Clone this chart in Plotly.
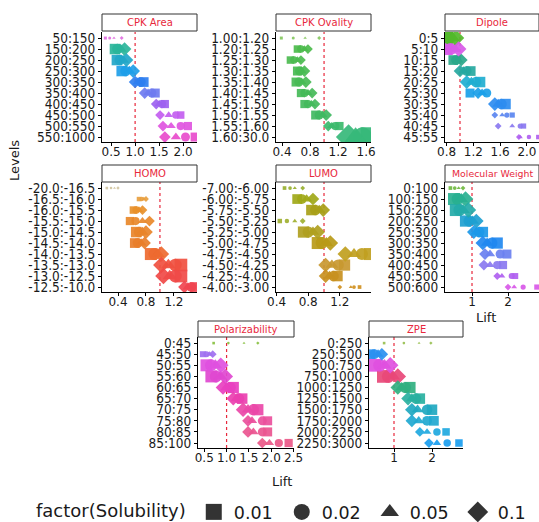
import math
import plotly.graph_objects as go

# ---------------- data ----------------
SOLUBILITY = ["0.01", "0.02", "0.05", "0.1"]

CPK_AREA_LEVELS = ["50:150", "150:200", "200:250", "250:300", "300:350", "350:400",
                   "400:450", "450:500", "500:550", "550:1000"]
# lift per level, columns = solubility 0.01, 0.02, 0.05, 0.1
CPK_AREA_LIFT = [[0.38, 0.47, 0.56, 0.72], [0.58, 0.63, 0.70, 0.78], [0.62, 0.68, 0.75, 0.82],
                 [0.72, 0.80, 0.88, 0.96], [1.18, 1.12, 1.06, 1.00], [1.42, 1.35, 1.27, 1.20],
                 [1.62, 1.56, 1.50, 1.44], [1.95, 1.85, 1.70, 1.52], [2.10, 1.95, 1.75, 1.58],
                 [2.25, 2.05, 1.85, 1.62]]
CPK_AREA_COUNT = [4, 49, 49, 49, 42, 36, 30, 25, 30, 36]

CPK_OVALITY_LEVELS = ["1.00:1.20", "1.20:1.25", "1.25:1.30", "1.30:1.35", "1.35:1.40", "1.40:1.45",
                      "1.45:1.50", "1.50:1.55", "1.55:1.60", "1.60:30.0"]
CPK_OVALITY_LIFT = [[0.39, 0.56, 0.73, 0.93], [0.62, 0.67, 0.72, 0.77], [0.52, 0.57, 0.62, 0.67],
                    [0.62, 0.65, 0.68, 0.72], [0.60, 0.64, 0.68, 0.74], [0.67, 0.72, 0.77, 0.83],
                    [0.72, 0.77, 0.82, 0.87], [0.88, 0.93, 0.98, 1.03], [1.22, 1.16, 1.11, 1.06],
                    [1.66, 1.55, 1.45, 1.35]]
CPK_OVALITY_COUNT = [4, 25, 25, 36, 36, 30, 30, 36, 30, 170]

DIPOLE_LEVELS = ["0:5", "5:10", "10:15", "15:20", "20:25", "25:30", "30:35", "35:40", "40:45", "45:55"]
DIPOLE_LIFT = [[0.80, 0.84, 0.89, 0.94], [0.80, 0.86, 0.92, 0.98], [0.90, 0.94, 0.97, 1.02],
               [1.16, 1.10, 1.05, 1.00], [1.30, 1.24, 1.17, 1.10], [1.15, 1.40, 1.33, 1.27],
               [1.68, 1.62, 1.57, 1.52], [1.78, 1.70, 1.63, 1.52], [1.95, 1.90, 1.78, 1.57],
               [2.17, 2.03, 1.90, 1.88]]
DIPOLE_COUNT = [72, 64, 42, 42, 49, 36, 49, 12, 12, 9]

HOMO_LEVELS = ["-20.0:-16.5", "-16.5:-16.0", "-16.0:-15.5", "-15.5:-15.0", "-15.0:-14.5",
               "-14.5:-14.0", "-14.0:-13.5", "-13.5:-13.0", "-13.0:-12.5", "-12.5:-10.0"]
HOMO_LIFT = [[0.24, 0.30, 0.35, 0.40], [0.70, 0.74, 0.77, 0.80], [0.62, 0.66, 0.70, 0.75],
             [0.57, 0.65, 0.75, 0.85], [0.66, 0.70, 0.75, 0.80], [0.64, 0.68, 0.73, 0.78],
             [0.87, 0.92, 0.97, 1.02], [1.30, 1.22, 1.12, 1.02], [1.30, 1.22, 1.14, 1.05],
             [1.50, 1.45, 1.40, 1.35]]
HOMO_COUNT = [3, 9, 25, 30, 49, 42, 64, 72, 72, 42]

LUMO_LEVELS = ["-7.00:-6.00", "-6.00:-5.75", "-5.75:-5.50", "-5.50:-5.25", "-5.25:-5.00",
               "-5.00:-4.75", "-4.75:-4.50", "-4.50:-4.25", "-4.25:-4.00", "-4.00:-3.00"]
LUMO_LIFT = [[0.50, 0.57, 0.63, 0.73], [0.66, 0.72, 0.78, 0.86], [0.84, 0.89, 0.94, 0.99],
             [0.44, 0.53, 0.63, 0.73], [0.74, 0.80, 0.86, 0.92], [0.92, 0.97, 1.03, 1.08],
             [1.58, 1.48, 1.38, 1.27], [1.26, 1.18, 1.10, 1.02], [1.17, 1.12, 1.07, 1.02],
             [1.45, 1.38, 1.34, 1.20]]
LUMO_COUNT = [6, 42, 49, 9, 56, 64, 64, 56, 49, 6]

MOLW_LEVELS = ["0:100", "100:150", "150:200", "200:250", "250:300", "300:350", "350:400",
               "400:450", "450:500", "500:600"]
MOLW_LIFT = [[0.40, 0.52, 0.63, 0.75], [0.50, 0.60, 0.70, 0.82], [0.55, 0.65, 0.75, 0.90],
             [0.82, 0.92, 1.02, 1.12], [1.30, 1.20, 1.12, 1.05], [1.70, 1.55, 1.42, 1.30],
             [1.97, 1.78, 1.50, 1.36], [1.86, 1.70, 1.50, 1.33], [2.20, 2.10, 1.83, 1.70],
             [2.80, 2.42, 2.17, 2.00]]
MOLW_COUNT = [6, 64, 64, 56, 49, 56, 36, 30, 16, 12]

POLAR_LEVELS = ["0:45", "45:50", "50:55", "55:60", "60:65", "65:70", "70:75", "75:80", "80:85", "85:100"]
POLAR_LIFT = [[0.71, 1.04, 1.39, 1.70], [0.47, 0.55, 0.62, 0.69], [0.55, 0.65, 0.75, 0.87],
              [0.66, 0.76, 0.86, 0.97], [1.15, 1.08, 1.00, 0.92], [1.35, 1.28, 1.22, 1.15],
              [1.70, 1.60, 1.48, 1.37], [1.92, 1.80, 1.57, 1.48], [1.92, 1.80, 1.60, 1.48],
              [2.39, 2.17, 1.96, 1.80]]
POLAR_COUNT = [3, 16, 64, 64, 56, 49, 56, 36, 36, 30]

ZPE_LEVELS = ["0:250", "250:500", "500:750", "750:1000", "1000:1250", "1250:1500", "1500:1750",
              "1750:2000", "2000:2250", "2250:3000"]
ZPE_LIFT = [[0.74, 1.26, 1.66, 1.97], [0.38, 0.48, 0.58, 0.68], [0.50, 0.62, 0.75, 0.90],
            [0.72, 0.85, 0.97, 1.10], [1.42, 1.30, 1.20, 1.10], [1.68, 1.58, 1.47, 1.37],
            [2.00, 1.87, 1.62, 1.47], [2.05, 1.87, 1.65, 1.47], [2.37, 2.13, 1.87, 1.68],
            [2.71, 2.40, 2.13, 1.92]]
ZPE_COUNT = [3, 42, 72, 72, 56, 49, 49, 42, 25, 25]

# ---------------- styles ----------------
W, H = 539, 522
SYMBOLS = ["square", "circle", "triangle-up", "diamond"]
RED = "#e8283c"
INK = "#1a1a1a"
TICKFONT = dict(family="DejaVu Sans Condensed, DejaVu Sans", size=13.5, color=INK)
XTICKFONT = dict(family="DejaVu Sans", size=12, color=INK)

PANELS = [
    dict(title="CPK Area", levels=CPK_AREA_LEVELS, lift=CPK_AREA_LIFT, count=CPK_AREA_COUNT,
         colors=["#e070e0", "#2ab59a", "#22a6c8", "#1e9ee8", "#2f7ff0", "#6f7cf0", "#9d62f0",
                 "#c35ef0", "#e055e0", "#e84ccc"],
         xr=[0.31, 2.29], tv=[0.5, 1, 1.5, 2], tt=["0.5", "1.0", "1.5", "2.0"],
         px=(102, 197), py=(32, 142), strip=(14, 31), fs=10),
    dict(title="CPK Ovality", levels=CPK_OVALITY_LEVELS, lift=CPK_OVALITY_LIFT, count=CPK_OVALITY_COUNT,
         colors=["#86c860", "#4cbb4c", "#4cbb50", "#48bb52", "#48bb55", "#45ba58", "#43ba5c",
                 "#40b962", "#3cba6c", "#36b87a"],
         xr=[0.314, 1.67], tv=[0.4, 0.8, 1.2, 1.6], tt=["0.4", "0.8", "1.2", "1.6"],
         px=(276, 371), py=(32, 142), strip=(14, 31), fs=10),
    dict(title="Dipole", levels=DIPOLE_LEVELS, lift=DIPOLE_LIFT, count=DIPOLE_COUNT,
         colors=["#52b82a", "#d85ae8", "#2aa88a", "#26a8a0", "#20aed0", "#1aa0e8", "#2d8cf0",
                 "#5a86f0", "#8a78f0", "#b060f0"],
         xr=[0.776, 2.18], tv=[0.8, 1.2, 1.6, 2.0], tt=["0.8", "1.2", "1.6", "2.0"],
         px=(445, 539), py=(32, 142), strip=(14, 31), fs=10),
    dict(title="HOMO", levels=HOMO_LEVELS, lift=HOMO_LIFT, count=HOMO_COUNT,
         colors=["#d0c4a0", "#e8a040", "#e8902a", "#e8882a", "#e8842a", "#e87e2a", "#ee6a30",
                 "#f05040", "#f04a48", "#f04450"],
         xr=[0.171, 1.53], tv=[0.4, 0.8, 1.2], tt=["0.4", "0.8", "1.2"],
         px=(102, 197), py=(182, 292), strip=(165, 182), fs=10),
    dict(title="LUMO", levels=LUMO_LEVELS, lift=LUMO_LIFT, count=LUMO_COUNT,
         colors=["#98b030", "#a0a818", "#a8a018", "#a0b030", "#b0a020", "#b89a18", "#c0a020",
                 "#c89830", "#c89020", "#d09020"],
         xr=[0.392, 1.595], tv=[0.4, 0.8, 1.2], tt=["0.4", "0.8", "1.2"],
         px=(276, 371), py=(182, 292), strip=(165, 182), fs=10),
    dict(title="Molecular Weight", levels=MOLW_LEVELS, lift=MOLW_LIFT, count=MOLW_COUNT,
         colors=["#70b840", "#28b090", "#24aaa8", "#1ea0d0", "#1c98e8", "#2088f0", "#6a80f0",
                 "#8a78f0", "#b060f0", "#d858e8"],
         xr=[0.25, 2.86], tv=[1, 2], tt=["1", "2"],
         px=(445, 539), py=(182, 292), strip=(165, 182), fs=9.4),
    dict(title="Polarizability", levels=POLAR_LEVELS, lift=POLAR_LIFT, count=POLAR_COUNT,
         colors=["#88c040", "#a070f0", "#e050e0", "#e048d0", "#e840c0", "#ea40b0", "#ea48a8",
                 "#ea509c", "#ea5590", "#ea5888"],
         xr=[0.36, 2.51], tv=[0.5, 1, 1.5, 2, 2.5], tt=["0.5", "1.0", "1.5", "2.0", "2.5"],
         px=(198, 294), py=(337, 448), strip=(321, 337), fs=10),
    dict(title="ZPE", levels=ZPE_LEVELS, lift=ZPE_LIFT, count=ZPE_COUNT,
         colors=["#98c050", "#2a90f0", "#e050e0", "#e84878", "#30b080", "#28b0a0", "#20a8c0",
                 "#20a8d0", "#1ea8e0", "#1a9ef0"],
         xr=[0.342, 2.816], tv=[1, 2], tt=["1", "2"],
         px=(369, 463), py=(337, 448), strip=(321, 337), fs=10),
]


def fx(p):
    return p / W


def fy(p):
    return 1 - p / H


fig = go.Figure()
shapes, annotations = [], []
layout_axes = {}

for i, p in enumerate(PANELS, start=1):
    xa = "x" if i == 1 else f"x{i}"
    ya = "y" if i == 1 else f"y{i}"
    n = len(p["levels"])
    sizes = [1.5 * math.sqrt(c) for c in p["count"]]
    for j, sym in enumerate(SYMBOLS):
        fig.add_trace(go.Scatter(
            x=[row[j] for row in p["lift"]], y=p["levels"], mode="markers",
            marker=dict(symbol=sym, size=sizes, color=p["colors"], opacity=0.92, line=dict(width=0)),
            xaxis=xa, yaxis=ya, showlegend=False, hoverinfo="skip"))
    layout_axes["xaxis" if i == 1 else f"xaxis{i}"] = dict(
        domain=[fx(p["px"][0]), min(1.0, fx(p["px"][1]))], range=p["xr"], anchor=ya,
        tickmode="array", tickvals=p["tv"], ticktext=p["tt"], showline=True, linecolor="black",
        linewidth=1, ticks="outside", ticklen=3, tickcolor="black", showgrid=False,
        zeroline=False, tickfont=XTICKFONT, ticklabelstandoff=-4, fixedrange=True)
    layout_axes["yaxis" if i == 1 else f"yaxis{i}"] = dict(
        domain=[fy(p["py"][1]), fy(p["py"][0])], type="category",
        categoryorder="array", categoryarray=p["levels"], range=[n - 0.55, -0.55], anchor=xa,
        tickmode="array", tickvals=p["levels"], ticktext=p["levels"],
        showline=True, linecolor="black", linewidth=1, ticks="outside", ticklen=3,
        tickcolor="black", showgrid=False, zeroline=False, tickfont=TICKFONT, fixedrange=True)
    dref = f"{xa} domain"
    shapes.append(dict(type="rect", xref=dref, x0=0, x1=1, yref="paper",
                       y0=fy(p["strip"][1]), y1=fy(p["strip"][0]),
                       line=dict(color="#333333", width=1), fillcolor="white"))
    shapes.append(dict(type="line", xref=xa, x0=1, x1=1, yref=f"{ya} domain", y0=0, y1=1,
                       line=dict(color=RED, width=1.2, dash="3px,3px"), layer="below"))
    annotations.append(dict(text=p["title"], xref=dref, x=0.5, yref="paper",
                            y=fy((p["strip"][0] + p["strip"][1]) / 2), showarrow=False,
                            font=dict(family="DejaVu Sans", size=p["fs"], color=RED),
                            xanchor="center", yanchor="middle"))

annotations += [
    dict(text="Levels", xref="paper", yref="paper", x=fx(15), y=fy(161), textangle=-90,
         xanchor="center", yanchor="middle", showarrow=False,
         font=dict(family="DejaVu Sans", size=13, color=INK)),
    dict(text="Lift", xref="paper", yref="paper", x=fx(486), y=fy(317), showarrow=False,
         xanchor="center", yanchor="middle", font=dict(family="DejaVu Sans", size=13, color=INK)),
    dict(text="Lift", xref="paper", yref="paper", x=fx(282), y=fy(481), showarrow=False,
         xanchor="center", yanchor="middle", font=dict(family="DejaVu Sans", size=13, color=INK)),
]

for j, sym in enumerate(SYMBOLS):
    fig.add_trace(go.Scatter(x=[None], y=[None], mode="markers", name=SOLUBILITY[j],
                             marker=dict(symbol=sym, size=16, color="#333333"),
                             xaxis="x", yaxis="y", showlegend=True))

fig.update_layout(
    width=W, height=H, margin=dict(l=0, r=0, t=0, b=0, pad=0, autoexpand=False),
    paper_bgcolor="white", plot_bgcolor="white",
    shapes=shapes, annotations=annotations,
    legend=dict(orientation="h", x=fx(34), y=fy(512), xanchor="left", yanchor="middle",
                title=dict(text="factor(Solubility)", side="left",
                           font=dict(family="DejaVu Sans", size=18, color=INK)),
                font=dict(family="DejaVu Sans", size=17.5, color=INK),
                entrywidth=43, entrywidthmode="pixels", itemsizing="trace",
                bgcolor="rgba(0,0,0,0)"),
    **layout_axes,
)

fig.write_html("out.html", config={"displayModeBar": False, "staticPlot": True},
               post_script="document.body.style.margin='0px';document.body.style.overflow='hidden';")
